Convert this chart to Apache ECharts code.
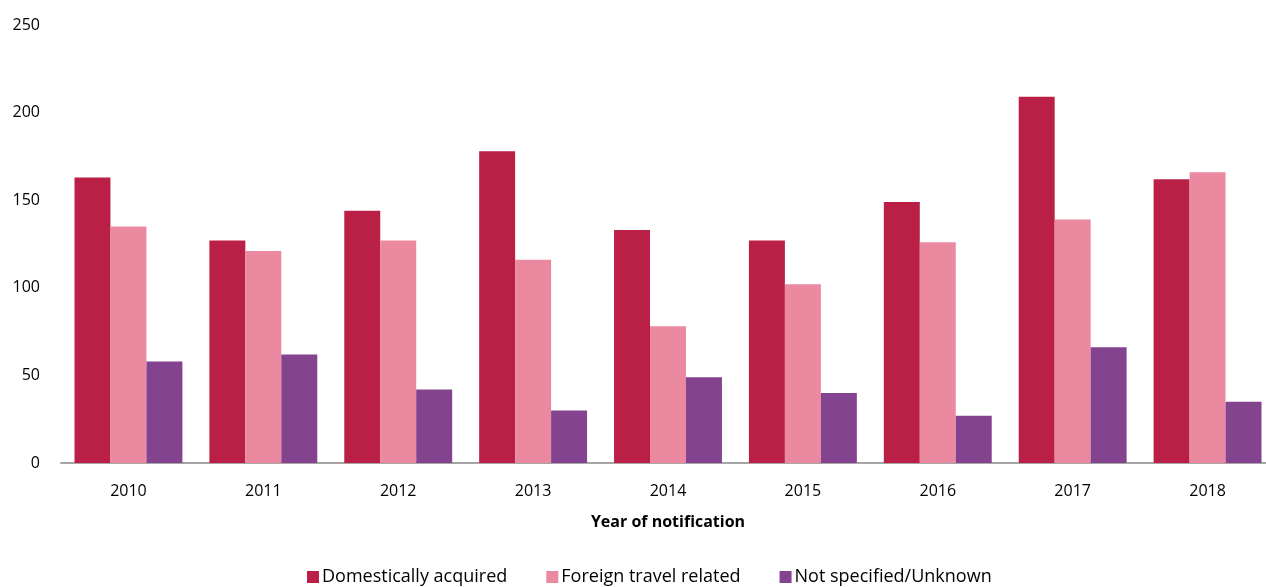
<!DOCTYPE html>
<html>
<head>
<meta charset="utf-8">
<script src="https://cdn.jsdelivr.net/npm/echarts@6/dist/echarts.min.js"></script>
<style>
  html, body { margin: 0; padding: 0; background: #fff; overflow: hidden; }
  /* the source chart runs a little past the right edge of the picture */
  #main { width: 1275px; height: 587px; }
</style>
</head>
<body>
<div id="main"></div>
<script>
// data
var years = ['2010', '2011', '2012', '2013', '2014', '2015', '2016', '2017', '2018'];
var domestic = [163, 127, 144, 178, 133, 127, 149, 209, 162];
var foreign = [135, 121, 127, 116, 78, 102, 126, 139, 166];
var unknown = [58, 62, 42, 30, 49, 40, 27, 66, 35];
var seriesNames = ['Domestically acquired', 'Foreign travel related', 'Not specified/Unknown'];

var font = '"Open Sans", "Noto Sans", sans-serif';
var myChart = echarts.init(document.getElementById('main'));

var option = {
  animation: false,
  color: ['#BA2046', '#EB89A0', '#84438E'],
  textStyle: { fontFamily: font },
  grid: {
    left: 61,
    right: 0,
    top: 25,
    bottom: 124
  },
  legend: {
    data: seriesNames,
    bottom: -4,
    left: 302,
    itemWidth: 12,
    itemHeight: 12,
    itemGap: 39,
    icon: 'rect',
    textStyle: { fontSize: 18, color: '#000', fontFamily: font, padding: [0, 0, 0, -2] }
  },
  xAxis: {
    type: 'category',
    data: years,
    name: 'Year of notification',
    nameLocation: 'middle',
    nameGap: 51,
    nameTextStyle: { fontSize: 16, fontWeight: 'bold', color: '#000', fontFamily: font },
    axisLine: { lineStyle: { color: '#A6A6A6', width: 2 } },
    axisTick: { show: false },
    axisLabel: { fontSize: 16, color: '#000', margin: 20, fontFamily: font }
  },
  yAxis: {
    type: 'value',
    min: 0,
    max: 250,
    interval: 50,
    axisLine: { show: false },
    axisTick: { show: false },
    splitLine: { show: false },
    axisLabel: { fontSize: 16, color: '#000', margin: 21, fontFamily: font }
  },
  series: [
    {
      name: seriesNames[0],
      type: 'bar',
      data: domestic,
      barGap: '0%',
      barCategoryGap: '20%'
    },
    {
      name: seriesNames[1],
      type: 'bar',
      data: foreign
    },
    {
      name: seriesNames[2],
      type: 'bar',
      data: unknown
    }
  ]
};
myChart.setOption(option);
</script>
</body>
</html>
